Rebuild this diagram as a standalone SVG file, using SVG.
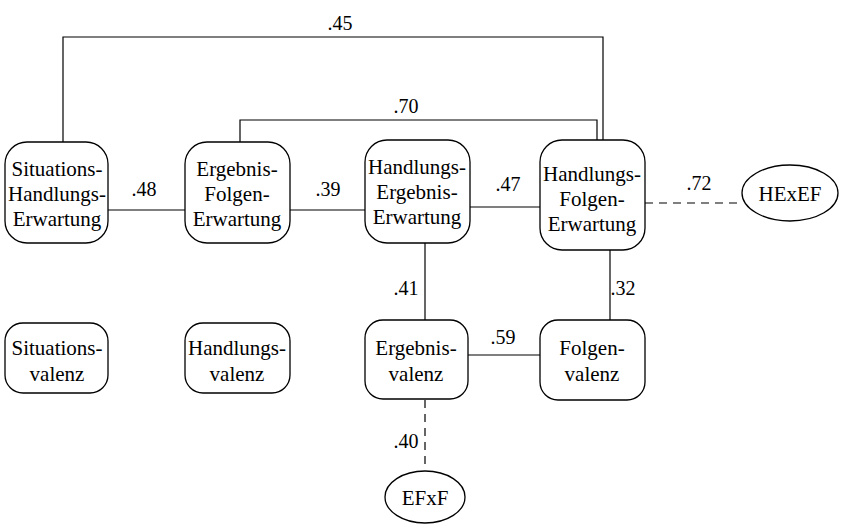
<svg xmlns="http://www.w3.org/2000/svg" width="850" height="530" viewBox="0 0 850 530">
<style>
.box{fill:#fff;stroke:#000;stroke-width:1.3}
.t{font-family:'Liberation Serif','Times New Roman',serif;font-size:21px;text-anchor:middle;fill:#000}
.l{font-family:'Liberation Serif','Times New Roman',serif;font-size:20px;text-anchor:middle;fill:#000}
.c{fill:none;stroke:#000;stroke-width:1.2}
.d{fill:none;stroke:#000;stroke-width:1.2;stroke-dasharray:8,6}
</style>
<rect width="850" height="530" fill="#fff"/>
<g id="connectors">
<polyline class="c" points="63,142 63,37 603,37 603,140"/>
<polyline class="c" points="240,142 240,120 597,120 597,140"/>
<line class="c" x1="108" y1="210" x2="185" y2="210"/>
<line class="c" x1="290" y1="210" x2="365" y2="210"/>
<line class="c" x1="470" y1="207" x2="540" y2="207"/>
<line class="d" x1="645" y1="203" x2="742" y2="203"/>
<line class="c" x1="425" y1="243" x2="425" y2="320"/>
<line class="c" x1="610" y1="250" x2="610" y2="320"/>
<line class="c" x1="468" y1="355" x2="540" y2="355"/>
<line class="d" x1="425" y1="400" x2="425" y2="470"/>
<text class="l" x="340" y="30">.45</text>
<text class="l" x="406" y="113">.70</text>
<text class="l" x="144" y="196">.48</text>
<text class="l" x="328" y="196">.39</text>
<text class="l" x="508" y="191">.47</text>
<text class="l" x="699" y="190">.72</text>
<text class="l" x="406" y="295">.41</text>
<text class="l" x="623" y="295">.32</text>
<text class="l" x="503" y="344">.59</text>
<text class="l" x="406" y="448">.40</text>
</g>
<g id="she">
<rect class="box" x="5" y="142" width="103" height="101" rx="22"/>
<text class="t" x="57" y="176">Situations-</text>
<text class="t" x="57" y="201">Handlungs-</text>
<text class="t" x="57" y="226">Erwartung</text>
</g>
<g id="efe">
<rect class="box" x="185" y="142" width="105" height="101" rx="22"/>
<text class="t" x="237" y="176">Ergebnis-</text>
<text class="t" x="237" y="201">Folgen-</text>
<text class="t" x="237" y="226">Erwartung</text>
</g>
<g id="hee">
<rect class="box" x="365" y="140" width="105" height="103" rx="22"/>
<text class="t" x="417" y="174">Handlungs-</text>
<text class="t" x="417" y="199">Ergebnis-</text>
<text class="t" x="417" y="224">Erwartung</text>
</g>
<g id="hfe">
<rect class="box" x="540" y="140" width="105" height="110" rx="22"/>
<text class="t" x="592" y="181">Handlungs-</text>
<text class="t" x="592" y="206">Folgen-</text>
<text class="t" x="592" y="231">Erwartung</text>
</g>
<g id="hexef">
<ellipse class="box" cx="790" cy="193" rx="48" ry="28"/>
<text class="t" x="790" y="201">HExEF</text>
</g>
<g id="sv">
<rect class="box" x="5" y="323" width="103" height="70" rx="18"/>
<text class="t" x="57" y="355">Situations-</text>
<text class="t" x="57" y="381">valenz</text>
</g>
<g id="hv">
<rect class="box" x="185" y="323" width="105" height="70" rx="18"/>
<text class="t" x="237" y="355">Handlungs-</text>
<text class="t" x="237" y="381">valenz</text>
</g>
<g id="ev">
<rect class="box" x="365" y="320" width="103" height="79" rx="18"/>
<text class="t" x="416" y="355">Ergebnis-</text>
<text class="t" x="416" y="381">valenz</text>
</g>
<g id="fv">
<rect class="box" x="540" y="320" width="105" height="80" rx="18"/>
<text class="t" x="592" y="355">Folgen-</text>
<text class="t" x="592" y="381">valenz</text>
</g>
<g id="efxf">
<ellipse class="box" cx="425" cy="497" rx="40" ry="26"/>
<text class="t" x="425" y="505">EFxF</text>
</g>
</svg>
